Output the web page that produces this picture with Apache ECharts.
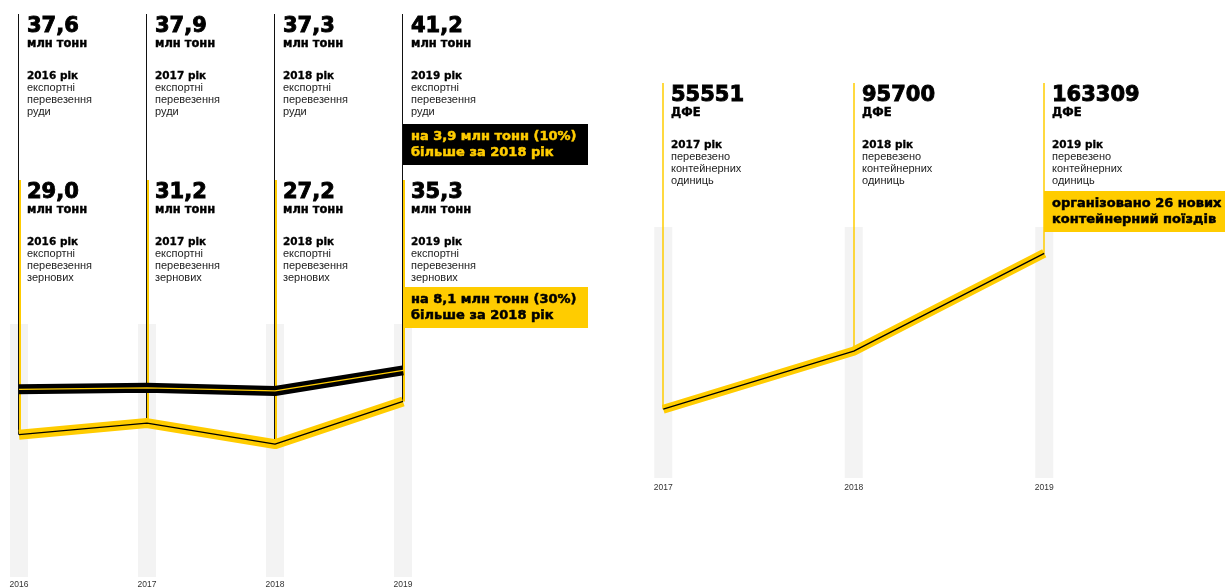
<!DOCTYPE html>
<html>
<head>
<meta charset="utf-8">
<script src="https://cdn.jsdelivr.net/npm/echarts@6/dist/echarts.min.js"></script>
<style>
  html, body { margin: 0; padding: 0; background: #ffffff; }
  #chart { width: 1225px; height: 587px; }
</style>
</head>
<body>
<div id="chart"></div>
<script>
// Export volumes, million tonnes
const exportYears = ['2016', '2017', '2018', '2019'];
const oreExport = [37.6, 37.9, 37.3, 41.2];
const grainExport = [29.0, 31.2, 27.2, 35.3];

// Container traffic, TEU
const containerYears = ['2017', '2018', '2019'];
const containerTeu = [55551, 95700, 163309];

// Caption texts
const tonnesUnit = 'млн тонн';
const teuUnit = 'ДФЕ';
const yearSuffix = 'рік';
const oreCaption = ['експортні', 'перевезення', 'руди'];
const grainCaption = ['експортні', 'перевезення', 'зернових'];
const containerCaption = ['перевезено', 'контейнерних', 'одиниць'];
const oreNote = ['на 3,9 млн тонн (10%)', 'більше за 2018 рік'];
const grainNote = ['на 8,1 млн тонн (30%)', 'більше за 2018 рік'];
const containerNote = ['організовано 26 нових', 'контейнерний поїздів'];

const YELLOW = '#FFCC00';
const BAND = '#F3F3F3';
const BOLD = '"DejaVu Sans", sans-serif';
const PLAIN = '"Liberation Sans", Arial, sans-serif';

const leftRange = [2, 50];
const rightRange = [8000, 181500];

const tonnes = v => v.toFixed(1).replace('.', ',');
const integer = v => String(Math.round(v));

// Heavy text: bold face plus a hairline stroke in the same colour
function heavy(text, x, y, size, color, weight) {
  return {
    type: 'text',
    style: { text: text, x: x, y: y, font: 'bold ' + size + 'px ' + BOLD,
             fill: color, stroke: color, lineWidth: weight,
             verticalAlign: 'middle', align: 'left' }
  };
}

// Callout column: vertical leader from a fixed top down to the data point,
// big value, unit, year, caption lines and an optional note box on the last column.
function callout(cfg) {
  return function (params, api) {
    const i = params.dataIndex;
    const v = api.value(1);
    const p = api.coord([api.value(0), v]);
    const x = Math.round(p[0]);
    const top = cfg.top;
    const children = [];

    cfg.leaders.forEach(l => {
      children.push({
        type: 'line',
        shape: { x1: x + l.dx, y1: top, x2: x + l.dx, y2: p[1] },
        style: { stroke: l.color, lineWidth: l.width }
      });
    });

    const tx = x + 8;
    children.push(heavy(cfg.format(v), tx, top + 12.5, 21, '#000', 0.9));
    children.push(heavy(cfg.unit, tx, top + 30, 11.5, '#000', 0.4));
    children.push(heavy(cfg.years[i] + ' ' + yearSuffix, tx, top + 62, 10.5, '#000', 0.3));
    cfg.caption.forEach((line, k) => {
      children.push({
        type: 'text',
        style: { text: line, x: tx, y: top + 74 + 12 * k, font: '11px ' + PLAIN,
                 fill: '#222', verticalAlign: 'middle', align: 'left' }
      });
    });

    if (cfg.note && i === cfg.years.length - 1) {
      const by = top + cfg.noteOffset;
      children.push({
        type: 'rect',
        shape: { x: x, y: by, width: 185, height: 41 },
        style: { fill: cfg.noteFill }
      });
      cfg.note.forEach((line, k) => {
        children.push(heavy(line, tx, by + 12.5 + 16.5 * k, 13, cfg.noteColor, 0.5));
      });
    }
    return { type: 'group', children: children };
  };
}

const axisLabelStyle = (margin) => ({
  color: '#333', fontSize: 8.5, fontFamily: PLAIN, margin: margin
});

const option = {
  animation: false,
  backgroundColor: '#ffffff',
  grid: [
    { left: -45, top: 324, width: 512, height: 253, outerBoundsMode: 'none', containLabel: false },
    { left: 568, top: 227, width: 571.5, height: 251, outerBoundsMode: 'none', containLabel: false }
  ],
  xAxis: [
    { type: 'category', gridIndex: 0, data: exportYears, boundaryGap: true,
      axisLine: { show: false }, axisTick: { show: false }, splitLine: { show: false },
      axisLabel: axisLabelStyle(3) },
    { type: 'category', gridIndex: 1, data: containerYears, boundaryGap: true,
      axisLine: { show: false }, axisTick: { show: false }, splitLine: { show: false },
      axisLabel: axisLabelStyle(5) }
  ],
  yAxis: [
    { type: 'value', gridIndex: 0, min: leftRange[0], max: leftRange[1], show: false,
      splitLine: { show: false } },
    { type: 'value', gridIndex: 1, min: rightRange[0], max: rightRange[1], show: false,
      splitLine: { show: false } }
  ],
  series: [
    // grey column bands
    { type: 'bar', xAxisIndex: 0, yAxisIndex: 0, barWidth: 18, silent: true, z: 1,
      itemStyle: { color: BAND }, data: exportYears.map(() => leftRange[1]) },
    { type: 'bar', xAxisIndex: 1, yAxisIndex: 1, barWidth: 18, silent: true, z: 1,
      itemStyle: { color: BAND }, data: containerYears.map(() => rightRange[1]) },

    // leaders and captions
    { type: 'custom', xAxisIndex: 0, yAxisIndex: 0, z: 2, silent: true,
      renderItem: callout({
        top: 14, years: exportYears, unit: tonnesUnit, caption: oreCaption, format: tonnes,
        leaders: [{ dx: -0.5, width: 1, color: '#111' }],
        note: oreNote, noteOffset: 110, noteFill: '#000', noteColor: YELLOW
      }),
      data: oreExport.map((v, i) => [i, v]) },
    { type: 'custom', xAxisIndex: 0, yAxisIndex: 0, z: 2, silent: true,
      renderItem: callout({
        top: 180, years: exportYears, unit: tonnesUnit, caption: grainCaption, format: tonnes,
        leaders: [{ dx: -0.5, width: 1, color: '#111' }, { dx: 1, width: 2, color: YELLOW }],
        note: grainNote, noteOffset: 107, noteFill: YELLOW, noteColor: '#000'
      }),
      data: grainExport.map((v, i) => [i, v]) },
    { type: 'custom', xAxisIndex: 1, yAxisIndex: 1, z: 2, silent: true,
      renderItem: callout({
        top: 83, years: containerYears, unit: teuUnit, caption: containerCaption, format: integer,
        leaders: [{ dx: 0, width: 1.5, color: YELLOW }],
        note: containerNote, noteOffset: 108, noteFill: YELLOW, noteColor: '#000'
      }),
      data: containerTeu.map((v, i) => [i, v]) },

    // grain: thick yellow with thin black core
    { type: 'line', xAxisIndex: 0, yAxisIndex: 0, z: 3, silent: true, symbol: 'none',
      lineStyle: { color: YELLOW, width: 10 }, data: grainExport },
    { type: 'line', xAxisIndex: 0, yAxisIndex: 0, z: 4, silent: true, symbol: 'none',
      lineStyle: { color: '#000', width: 1.3 }, data: grainExport },
    // ore: thick black with thin yellow core
    { type: 'line', xAxisIndex: 0, yAxisIndex: 0, z: 3, silent: true, symbol: 'none',
      lineStyle: { color: '#000', width: 10 }, data: oreExport },
    { type: 'line', xAxisIndex: 0, yAxisIndex: 0, z: 4, silent: true, symbol: 'none',
      lineStyle: { color: YELLOW, width: 1.3 }, data: oreExport },
    // containers
    { type: 'line', xAxisIndex: 1, yAxisIndex: 1, z: 3, silent: true, symbol: 'none',
      lineStyle: { color: YELLOW, width: 9 }, data: containerTeu },
    { type: 'line', xAxisIndex: 1, yAxisIndex: 1, z: 4, silent: true, symbol: 'none',
      lineStyle: { color: '#000', width: 1.3 }, data: containerTeu }
  ]
};

const chart = echarts.init(document.getElementById('chart'), null, { renderer: 'canvas' });
chart.setOption(option);
</script>
</body>
</html>
